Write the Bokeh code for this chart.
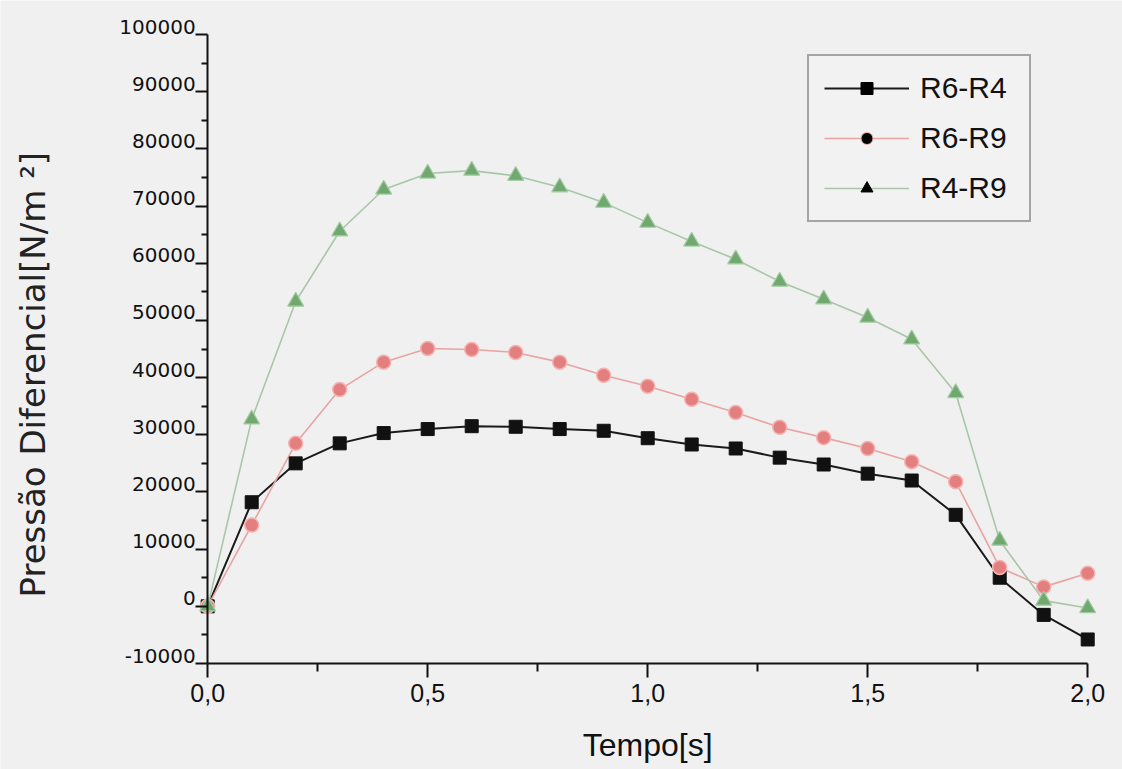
import math

from bokeh.core.properties import value
from bokeh.embed import file_html
from bokeh.models import (ColumnDataSource, FixedTicker, Label, LabelSet,
                          Legend, LegendItem, Range1d)
from bokeh.plotting import figure
from bokeh.resources import INLINE

# Differential pressure between taps, sampled every 0.1 s
tempo = [0.0, 0.1, 0.2, 0.3, 0.4, 0.5, 0.6, 0.7, 0.8, 0.9, 1.0,
         1.1, 1.2, 1.3, 1.4, 1.5, 1.6, 1.7, 1.8, 1.9, 2.0]
r6_r4 = [0, 18200, 25000, 28500, 30300, 31000, 31500, 31400, 31000, 30700, 29400,
         28300, 27600, 26000, 24800, 23200, 22000, 16000, 5000, -1500, -5800]
r6_r9 = [0, 14200, 28500, 37900, 42700, 45100, 44900, 44400, 42700, 40400, 38500,
         36200, 33900, 31300, 29500, 27600, 25300, 21800, 6800, 3400, 5800]
r4_r9 = [0, 32700, 53300, 65600, 72900, 75700, 76200, 75300, 73300, 70600, 67100,
         63800, 60700, 56800, 53700, 50500, 46700, 37300, 11500, 1000, -300]

series_names = ["R6-R4", "R6-R9", "R4-R9"]

x_ticks = [0.0, 0.5, 1.0, 1.5, 2.0]
x_tick_labels = ["0,0", "0,5", "1,0", "1,5", "2,0"]
y_ticks = [-10000, 0, 10000, 20000, 30000, 40000, 50000,
           60000, 70000, 80000, 90000, 100000]
y_tick_labels = ["-10000", "0", "10000", "20000", "30000", "40000", "50000",
                 "60000", "70000", "80000", "90000", "100000"]

X_MIN, X_MAX = 0.0, 2.0
Y_MIN, Y_MAX = -10000, 100000

BG = "#f0f0f0"
INK = "#111111"

W, H = 1122, 769
# pixel placement of the axes box inside the canvas
AX_L, AX_R, AX_T, AX_B = 207.2, 1087.2, 34.0, 663.0
sx = (AX_R - AX_L) / (X_MAX - X_MIN)
sy = (AX_B - AX_T) / (Y_MAX - Y_MIN)
x_range = Range1d(X_MIN - AX_L / sx, X_MAX + (W - AX_R) / sx)
y_range = Range1d(Y_MIN - (H - AX_B) / sy, Y_MAX + AX_T / sy)

p = figure(width=W, height=H, output_backend="svg", toolbar_location=None,
           x_range=x_range, y_range=y_range, min_border=0,
           background_fill_color=BG, border_fill_color=BG)
p.outline_line_color = None
p.grid.visible = False

# x axis along the bottom of the data box
xa = p.xaxis[0]
xa.fixed_location = Y_MIN
xa.bounds = (X_MIN, X_MAX)
xa.ticker = FixedTicker(ticks=x_ticks, minor_ticks=[0.25, 0.75, 1.25, 1.75])
xa.major_label_overrides = {t: s for t, s in zip(x_ticks, x_tick_labels)}
xa.axis_line_color = INK
xa.axis_line_width = 2
xa.major_tick_line_color = INK
xa.major_tick_line_width = 2
xa.minor_tick_line_color = INK
xa.minor_tick_line_width = 2
xa.major_tick_in = 0
xa.major_tick_out = 14
xa.minor_tick_in = 0
xa.minor_tick_out = 8
xa.major_label_standoff = 6
xa.major_label_text_font = "Liberation Sans"
xa.major_label_text_font_size = "25px"
xa.major_label_text_color = INK

# y axis at t = 0, labels sit just above their ticks
ya = p.yaxis[0]
ya.fixed_location = X_MIN
ya.bounds = (Y_MIN, Y_MAX)
minor_y = [v + 5000 for v in y_ticks[:-1]]
ya.ticker = FixedTicker(ticks=y_ticks, minor_ticks=minor_y)
ya.major_label_overrides = {v: "" for v in y_ticks}
ya.axis_line_color = INK
ya.axis_line_width = 2
ya.major_tick_line_color = INK
ya.major_tick_line_width = 2
ya.minor_tick_line_color = INK
ya.minor_tick_line_width = 2
ya.major_tick_in = 0
ya.major_tick_out = 12
ya.minor_tick_in = 0
ya.minor_tick_out = 6

ytl = ColumnDataSource(data=dict(x=[X_MIN] * len(y_ticks), y=y_ticks, t=y_tick_labels))
p.add_layout(LabelSet(x="x", y="y", text="t", source=ytl,
                      x_offset=-12, y_offset=1,
                      text_align="right", text_baseline="alphabetic",
                      text_font=value("DejaVu Sans"), text_font_size="20px",
                      text_color=INK))

# data series
l1 = p.line(tempo, r6_r4, line_color="#1a1a1a", line_width=2)
l2 = p.line(tempo, r6_r9, line_color="#e9a3a3", line_width=1.6)
l3 = p.line(tempo, r4_r9, line_color="#a9c6a9", line_width=1.6)

p.scatter(tempo, r6_r4, marker="square", size=13,
          fill_color="#111111", line_color="#111111")
p.scatter(tempo, r6_r9, marker="circle", size=14,
          fill_color="#e47f7f", line_color="#f3b3b3", line_width=1.5)
p.scatter(tempo, r4_r9, marker="triangle", size=16,
          fill_color="#70a870", line_color="#a2cca2", line_width=1.2)

# black key markers, shown only in the legend
nan = float("nan")
key_src = ColumnDataSource(data=dict(x=[nan], y=[nan]))
k1 = p.scatter("x", "y", source=key_src, marker="square", fill_color="black", line_color="black")
k2 = p.scatter("x", "y", source=key_src, marker="circle", fill_color="black", line_color="#f4b8b8")
k3 = p.scatter("x", "y", source=key_src, marker="triangle", fill_color="black", line_color="black")

legend = Legend(items=[LegendItem(label=series_names[0], renderers=[l1, k1]),
                       LegendItem(label=series_names[1], renderers=[l2, k2]),
                       LegendItem(label=series_names[2], renderers=[l3, k3])],
                location=(807, 547), orientation="vertical",
                glyph_width=85, glyph_height=30, label_height=30, label_width=94,
                spacing=16, padding=15, margin=0, label_standoff=11,
                border_line_color="#555555", border_line_width=2,
                background_fill_color="#f2f2f2", background_fill_alpha=1.0,
                label_text_font="Liberation Sans", label_text_font_size="30px",
                label_text_color=INK)
p.add_layout(legend)

# axis titles
p.add_layout(Label(x=1.0, y=-24300, text="Tempo[s]",
                   text_align="center", text_baseline="middle",
                   text_font="Liberation Sans", text_font_size="32px",
                   text_color=INK))
p.add_layout(Label(x=-0.396, y=40500, text="Pressão Diferencial[N/m ²]",
                   angle=math.pi / 2,
                   text_align="center", text_baseline="middle",
                   text_font="DejaVu Sans", text_font_size="34px",
                   text_color="#222222"))

open("out.html", "w").write(file_html(p, INLINE))
